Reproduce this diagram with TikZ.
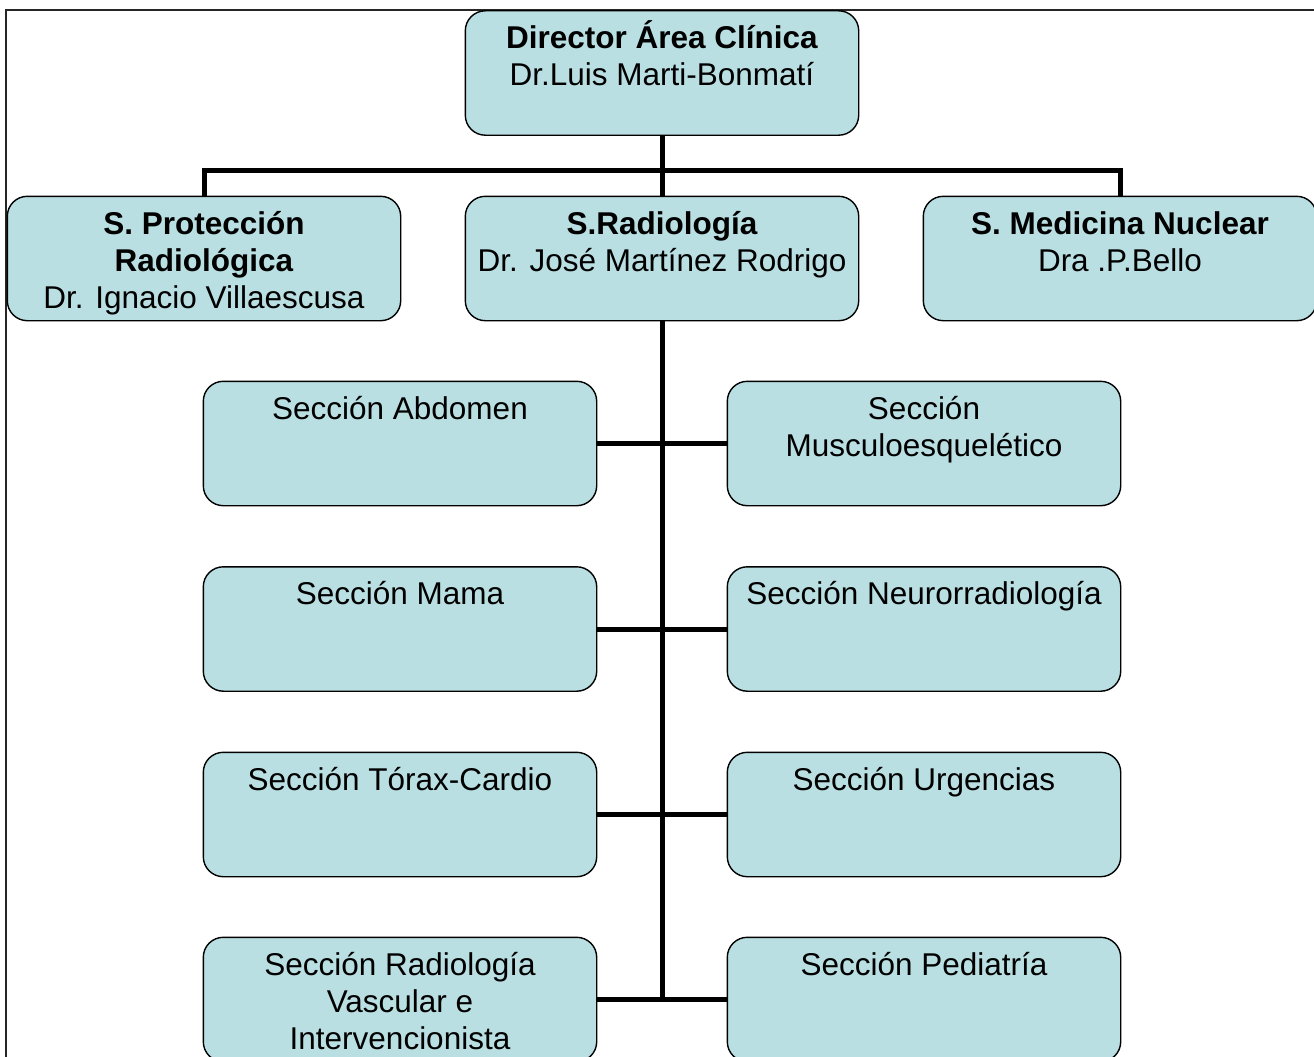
\documentclass[tikz,border=0pt]{standalone}
\usepackage{fontspec}
\setmainfont{Liberation Sans}
\definecolor{boxfill}{HTML}{B9DFE2}
\begin{document}
\begin{tikzpicture}[x=1pt,y=-1pt,
  box/.style={draw=black, line width=1.4pt, fill=boxfill, rounded corners=20pt,
    minimum width=392pt, minimum height=123pt, inner sep=0pt},
  lbl/.style={anchor=base, align=center, inner sep=0pt,
    font=\fontsize{31.5pt}{37pt}\selectfont},
  conn/.style={line width=5pt, black}]
\useasboundingbox (0,0) rectangle (1314,1057);
\begin{scope}
\clip (0,0) rectangle (1314,1057);
\draw[line width=1.5pt, black!85] (6,1070) -- (6,10) -- (1320,10);

\coordinate (j) at (662,170);
\node[box] (dir) at (662,73) {};
\node[box] (prot) at (204,258.5) {};
\node[box] (rad) at (662,258.5) {};
\node[box] (nuc) at (1120,258.5) {};
\node[box] (abd) at (400,443.5) {};
\node[box] (musc) at (924,443.5) {};
\node[box] (mama) at (400,629) {};
\node[box] (neuro) at (924,629) {};
\node[box] (torax) at (400,814.5) {};
\node[box] (urg) at (924,814.5) {};
\node[box] (vasc) at (400,999.5) {};
\node[box] (ped) at (924,999.5) {};

\draw[conn] (dir.south) -- (rad.north);
\draw[conn] (prot.north) |- (j) -| (nuc.north);
\draw[conn] (rad.south) -- (rad.south |- vasc.east);
\draw[conn] (abd.east) -- (musc.west);
\draw[conn] (mama.east) -- (neuro.west);
\draw[conn] (torax.east) -- (urg.west);
\draw[conn] (vasc.east) -- (ped.west);

% redraw boxes over connector ends
\foreach \n in {dir,prot,rad,nuc,abd,musc,mama,neuro,torax,urg,vasc,ped}{
  \draw[line width=1.4pt, fill=boxfill, rounded corners=20pt]
    (\n.north west) rectangle (\n.south east);
}

\node[lbl] (dirT) at ([yshift=-75pt]dir.north) {\textbf{Director Área Clínica}\\Dr.Luis Marti-Bonmatí};
\node[lbl] (protT) at ([yshift=-112pt]prot.north) {\textbf{S. Protección}\\\textbf{Radiológica}\\Dr. Ignacio Villaescusa};
\node[lbl] (radT) at ([yshift=-75pt]rad.north) {\textbf{S.Radiología}\\Dr. José Martínez Rodrigo};
\node[lbl] (nucT) at ([yshift=-75pt]nuc.north) {\textbf{S. Medicina Nuclear}\\Dra .P.Bello};
\node[lbl] (abdT) at ([yshift=-38pt]abd.north) {Sección Abdomen};
\node[lbl] (muscT) at ([yshift=-75pt]musc.north) {Sección\\Musculoesquelético};
\node[lbl] (mamaT) at ([yshift=-38pt]mama.north) {Sección Mama};
\node[lbl] (neuroT) at ([yshift=-38pt]neuro.north) {Sección Neurorradiología};
\node[lbl] (toraxT) at ([yshift=-38pt]torax.north) {Sección Tórax-Cardio};
\node[lbl] (urgT) at ([yshift=-38pt]urg.north) {Sección Urgencias};
\node[lbl] (vascT) at ([yshift=-112pt]vasc.north) {Sección Radiología\\Vascular e\\Intervencionista};
\node[lbl] (pedT) at ([yshift=-38pt]ped.north) {Sección Pediatría};
\end{scope}
\end{tikzpicture}
\end{document}
